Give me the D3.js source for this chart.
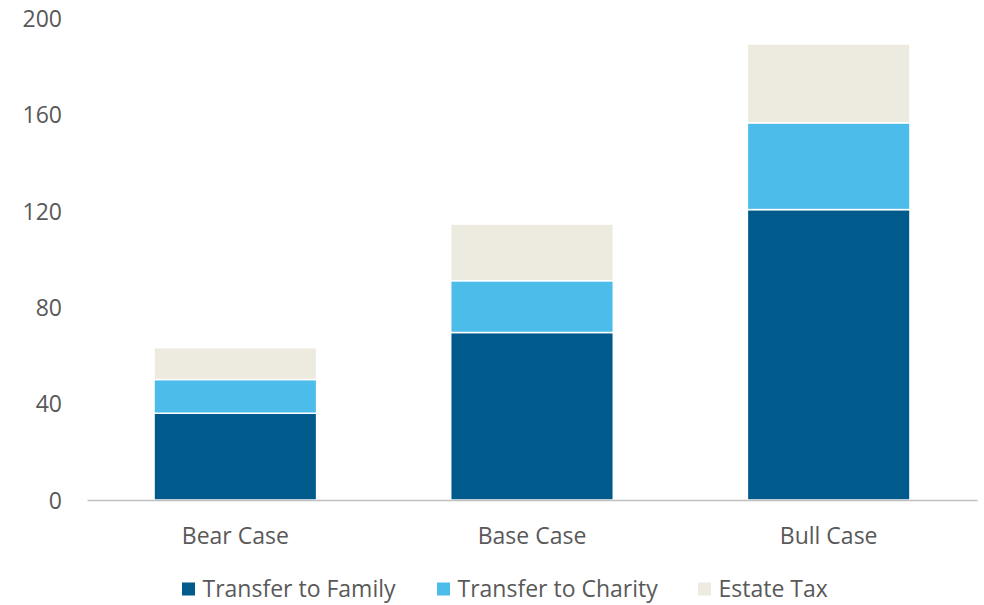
<!DOCTYPE html>
<html lang="en">
<head>
<meta charset="UTF-8">
<script src="https://d3js.org/d3.v7.min.js"></script>
<style>
  body { margin: 0; background: #fff; }
  text { font-family: "Open Sans", "Noto Sans", sans-serif; fill: #595959; }
</style>
</head>
<body>
<svg id="chart" width="984" height="605"></svg>
<script>
// data
const cases = ["Bear Case", "Base Case", "Bull Case"];
const seriesNames = ["Transfer to Family", "Transfer to Charity", "Estate Tax"];
const family = [36, 69.5, 120.5];
const charity = [14, 21.5, 36];
const estateTax = [13.2, 23.5, 32.7];
const yTicks = [0, 40, 80, 120, 160, 200];
const colors = ["#005A8C", "#4CBCEA", "#EDEAE0"];

const svg = d3.select("svg#chart");
const fontSize = "23px";

// table for the stack
const rows = cases.map((c, i) => ({
    name: c,
    "Transfer to Family": family[i],
    "Transfer to Charity": charity[i],
    "Estate Tax": estateTax[i]
}));
const stacked = d3.stack().keys(seriesNames)(rows);

const x = d3.scaleBand().domain(cases)
    .range([87, 977])
    .paddingInner(0.452)
    .paddingOuter(0.226);
const y = d3.scaleLinear().domain([0, 200]).range([500, 18]);
const color = d3.scaleOrdinal(seriesNames, colors);

// y axis labels only, no line
const yAxis = svg.append("g")
    .attr("transform", "translate(62,0)")
    .call(d3.axisLeft(y).tickValues(yTicks).tickSize(0).tickPadding(0));
yAxis.select(".domain").remove();
yAxis.selectAll("text")
    .style("font-size", fontSize)
    .attr("dy", "0.36em")
    .attr("fill", "#595959");

// bars
svg.append("g").selectAll("g").data(stacked)
    .join("g")
    .attr("fill", d => color(d.key))
    .selectAll("rect").data(d => d)
    .join("rect")
    .attr("x", d => x(d.data.name))
    .attr("width", x.bandwidth())
    .attr("y", d => y(d[1]))
    .attr("height", d => y(d[0]) - y(d[1]))
    .attr("stroke", "#fff")
    .attr("stroke-width", 1.5);

// x axis
const xAxis = svg.append("g")
    .attr("transform", "translate(0,500)")
    .call(d3.axisBottom(x).tickSize(0));
xAxis.select(".domain").attr("stroke", "#BFBFBF").attr("stroke-width", 1.5);
xAxis.selectAll("text")
    .style("font-size", fontSize)
    .attr("y", 44)
    .attr("dy", 0)
    .attr("fill", "#595959");

// legend
const legendX = [182, 437, 698];
const legend = svg.append("g").attr("transform", "translate(0,596.5)");
seriesNames.forEach((s, i) => {
    legend.append("rect")
        .attr("x", legendX[i])
        .attr("y", -14)
        .attr("width", 13)
        .attr("height", 13)
        .attr("fill", color(s));
    legend.append("text")
        .attr("x", legendX[i] + 20.5)
        .attr("y", 0)
        .style("font-size", fontSize)
        .text(s);
});
</script>
</body>
</html>
